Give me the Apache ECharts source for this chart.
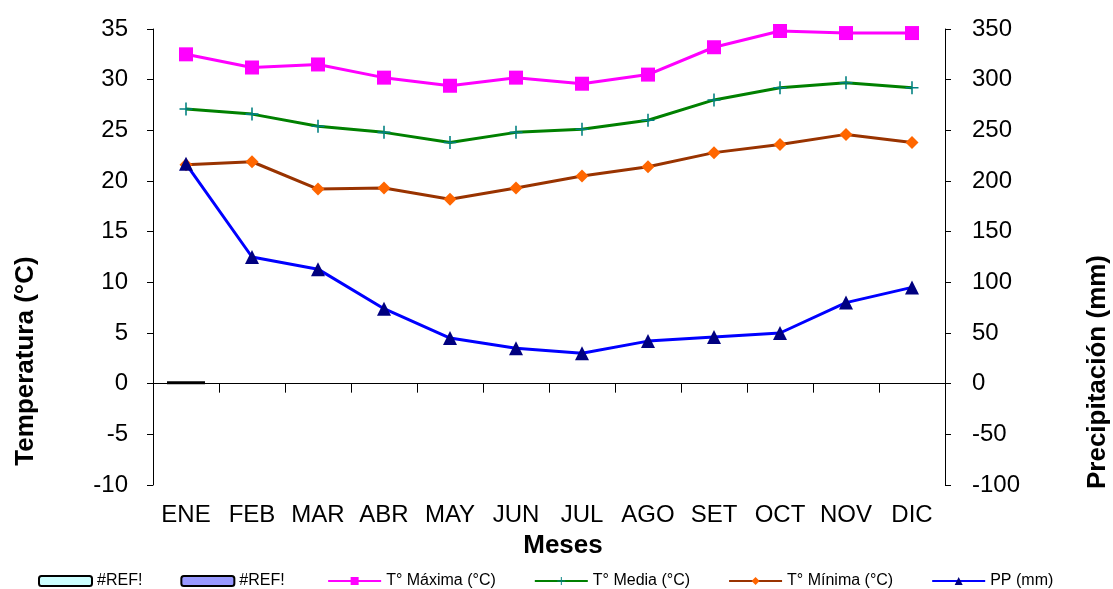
<!DOCTYPE html>
<html>
<head>
<meta charset="utf-8">
<script src="https://cdn.jsdelivr.net/npm/echarts@6/dist/echarts.min.js"></script>
<style>html,body{margin:0;padding:0;background:#fff}#c{width:1113px;height:589px}</style>
</head>
<body>
<div id="c"></div>
<script>
const months = ['ENE','FEB','MAR','ABR','MAY','JUN','JUL','AGO','SET','OCT','NOV','DIC'];
const tMax = [32.5, 31.2, 31.5, 30.2, 29.4, 30.2, 29.6, 30.5, 33.2, 34.8, 34.6, 34.6];
const tMed = [27.1, 26.6, 25.4, 24.8, 23.8, 24.8, 25.1, 26.0, 28.0, 29.2, 29.7, 29.2];
const tMin = [21.6, 21.9, 19.2, 19.3, 18.2, 19.3, 20.5, 21.4, 22.8, 23.6, 24.6, 23.8];
const pp   = [217, 125, 113, 74, 45, 35, 30, 42, 46, 50, 80, 95];
const ref1 = [0.2, null, null, null, null, null, null, null, null, null, null, null];
const ref2 = [null, null, null, null, null, null, null, null, null, null, null, null];

const FONT = 'Liberation Sans, Arial, sans-serif';
const chart = echarts.init(document.getElementById('c'));
const plus = 'path://M4.4,0 H5.6 V4.4 H10 V5.6 H5.6 V10 H4.4 V5.6 H0 V4.4 H4.4 Z';
chart.setOption({
  animation: false,
  backgroundColor: '#fff',
  grid: {left: 153, right: 168, top: 29, bottom: 104, containLabel: false, outerBoundsMode: 'none'},
  legend: {
    left: 38, top: 573, padding: 0, itemWidth: 53, itemHeight: 10, itemGap: 38,
    textStyle: {fontFamily: FONT, fontSize: 16, color: '#000'},
    data: [
      {name: '#REF!'}, {name: '#REF! '},
      {name: 'T° Máxima (°C)'}, {name: 'T° Media (°C)'}, {name: 'T° Mínima (°C)'}, {name: 'PP (mm)'}
    ]
  },
  xAxis: [
    {type: 'category', data: months, boundaryGap: true, position: 'top',
     axisLine: {onZero: true, lineStyle: {color: '#000', width: 1}},
     axisTick: {show: true, inside: true, length: 9, lineStyle: {color: '#000'}},
     axisLabel: {show: false},
     splitLine: {show: false}},
    {type: 'category', data: months, boundaryGap: true, position: 'bottom',
     axisLine: {show: false, onZero: false},
     axisTick: {show: false},
     axisLabel: {interval: 0, margin: 18, fontFamily: FONT, fontSize: 24, color: '#000'},
     splitLine: {show: false}}
  ],
  yAxis: [
    {type: 'value', min: -10, max: 35, interval: 5,
     axisLine: {show: true, lineStyle: {color: '#000'}},
     axisTick: {show: true, length: 6, lineStyle: {color: '#000'}},
     axisLabel: {margin: 25, fontFamily: FONT, fontSize: 24, color: '#000'},
     splitLine: {show: false}},
    {type: 'value', min: -100, max: 350, interval: 50, position: 'right',
     axisLine: {show: true, lineStyle: {color: '#000'}},
     axisTick: {show: true, length: 6, lineStyle: {color: '#000'}},
     axisLabel: {margin: 27, fontFamily: FONT, fontSize: 24, color: '#000'},
     splitLine: {show: false}}
  ],
  graphic: [
    {type: 'text', x: 26, y: 361, rotation: Math.PI/2,
     style: {text: 'Temperatura (°C)', font: 'bold 26px ' + FONT, fill: '#000', align: 'center', verticalAlign: 'middle'}},
    {type: 'text', x: 1098, y: 372, rotation: Math.PI/2,
     style: {text: 'Precipitación (mm)', font: 'bold 26px ' + FONT, fill: '#000', align: 'center', verticalAlign: 'middle'}},
    {type: 'text', x: 563, y: 546,
     style: {text: 'Meses', font: 'bold 26px ' + FONT, fill: '#000', align: 'center', verticalAlign: 'middle'}}
  ],
  series: [
    {name: '#REF!', type: 'bar', data: ref1, barWidth: 40, barGap: '-100%',
     itemStyle: {color: '#CCFFFF', borderColor: '#000', borderWidth: 3}},
    {name: '#REF! ', type: 'bar', data: ref2, barWidth: 40,
     itemStyle: {color: '#9999FF', borderColor: '#000', borderWidth: 3}},
    {name: 'T° Máxima (°C)', type: 'line', data: tMax, symbol: 'rect', symbolSize: 14,
     lineStyle: {color: '#FF00FF', width: 3}, itemStyle: {color: '#FF00FF'}},
    {name: 'T° Media (°C)', type: 'line', data: tMed, symbol: plus, symbolSize: 13,
     lineStyle: {color: '#008000', width: 3}, itemStyle: {color: '#008080'}},
    {name: 'T° Mínima (°C)', type: 'line', data: tMin, symbol: 'diamond', symbolSize: 13,
     lineStyle: {color: '#993300', width: 3}, itemStyle: {color: '#FF6600'}},
    {name: 'PP (mm)', type: 'line', yAxisIndex: 1, data: pp, symbol: 'triangle', symbolSize: 14,
     lineStyle: {color: '#0000FF', width: 3}, itemStyle: {color: '#000080'}}
  ]
});
</script>
</body>
</html>
